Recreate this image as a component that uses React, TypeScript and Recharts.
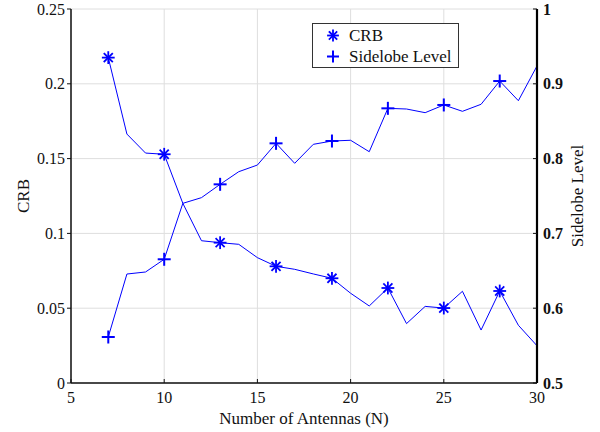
import React from 'react';
import {
  ComposedChart,
  Line,
  XAxis,
  YAxis,
  CartesianGrid,
} from 'recharts';

// Number of antennas N on the x axis
const antennas = [7, 8, 9, 10, 11, 12, 13, 14, 15, 16, 17, 18, 19, 20, 21, 22, 23, 24, 25, 26, 27, 28, 29, 30];

// Cramér–Rao bound per antenna count (left axis)
const crb = [
  0.2175, 0.1664, 0.1537, 0.1529, 0.1201, 0.0951, 0.0938, 0.0927, 0.0838, 0.078, 0.076, 0.0729,
  0.07, 0.06, 0.0515, 0.0635, 0.0397, 0.0512, 0.0501, 0.0613, 0.0354, 0.0615, 0.0386, 0.0249,
];

// Sidelobe level per antenna count (right axis)
const sidelobe = [
  0.5615, 0.6457, 0.6484, 0.6654, 0.7402, 0.7478, 0.7656, 0.7825, 0.7914, 0.8204, 0.7937, 0.8191,
  0.8235, 0.8245, 0.8092, 0.8672, 0.8663, 0.8614, 0.8717, 0.8632, 0.8726, 0.9037, 0.8774, 0.9238,
];

// Antenna counts where a marker is drawn on each curve
const markerAntennas = [7, 10, 13, 16, 19, 22, 25, 28];

const xTicks = [5, 10, 15, 20, 25, 30];
const crbTicks = [0, 0.05, 0.1, 0.15, 0.2, 0.25];
const sidelobeTicks = [0.5, 0.6, 0.7, 0.8, 0.9, 1];

const seriesNames = { crb: 'CRB', sidelobe: 'Sidelobe Level' };

const data = antennas.map((n, i) => ({ n, crb: crb[i], sidelobe: sidelobe[i] }));

const BLUE = '#0000ff';
const FONT = 'Liberation Serif, DejaVu Serif, serif';
const markerSet = new Set(markerAntennas);

const Asterisk = ({ cx, cy, r = 5.5 }: { cx: number; cy: number; r?: number }) => {
  const d = r * Math.SQRT1_2;
  return (
    <g stroke={BLUE} strokeWidth={1.8} strokeLinecap="square">
      <line x1={cx - r} y1={cy} x2={cx + r} y2={cy} />
      <line x1={cx} y1={cy - r} x2={cx} y2={cy + r} />
      <line x1={cx - d} y1={cy - d} x2={cx + d} y2={cy + d} />
      <line x1={cx - d} y1={cy + d} x2={cx + d} y2={cy - d} />
    </g>
  );
};

const Plus = ({ cx, cy, r = 6.5 }: { cx: number; cy: number; r?: number }) => (
  <g stroke={BLUE} strokeWidth={2}>
    <line x1={cx - r} y1={cy} x2={cx + r} y2={cy} />
    <line x1={cx} y1={cy - r} x2={cx} y2={cy + r} />
  </g>
);

const asteriskDot = (props: any) => {
  const { cx, cy, payload, index } = props;
  if (!markerSet.has(payload.n)) return <g key={`a-${index}`} />;
  return (
    <g key={`a-${index}`}>
      <Asterisk cx={cx} cy={cy} />
    </g>
  );
};

const plusDot = (props: any) => {
  const { cx, cy, payload, index } = props;
  if (!markerSet.has(payload.n)) return <g key={`p-${index}`} />;
  return (
    <g key={`p-${index}`}>
      <Plus cx={cx} cy={cy} />
    </g>
  );
};

// Legend box overlaid on the upper part of the plot
const LegendBox = () => (
  <div
    style={{
      position: 'absolute',
      left: 312,
      top: 23,
      width: 145,
      height: 43,
      border: '1px solid #333',
      background: '#fff',
      fontFamily: FONT,
      fontSize: 17,
      color: '#111',
    }}
  >
    {[seriesNames.crb, seriesNames.sidelobe].map((name, i) => (
      <div
        key={name}
        style={{ position: 'absolute', left: 0, top: i === 0 ? 1 : 22, height: 21, display: 'flex', alignItems: 'center' }}
      >
        <svg width={36} height={21} style={{ display: 'block' }}>
          {i === 0 ? <Asterisk cx={20} cy={10.5} r={5} /> : <Plus cx={20} cy={10.5} r={6} />}
        </svg>
        <span style={{ whiteSpace: 'nowrap', lineHeight: '21px' }}>{name}</span>
      </div>
    ))}
  </div>
);

const axisText = { fontFamily: FONT, fontSize: 16, fill: '#111' };

export default function App() {
  return (
    <div style={{ position: 'fixed', left: 0, top: 0, width: 600, height: 432, background: '#fff', fontFamily: FONT }}>
      <ComposedChart
        width={600}
        height={432}
        data={data}
        margin={{ top: 9, right: 0, bottom: 0, left: 0 }}
      >
        <CartesianGrid yAxisId="left" stroke="#dedede" strokeWidth={1} />
        <XAxis
          dataKey="n"
          type="number"
          domain={[5, 30]}
          ticks={xTicks}
          height={49}
          tickSize={-4}
          tickMargin={13}
          axisLine={{ stroke: '#111', strokeWidth: 1.5 }}
          tickLine={{ stroke: '#111' }}
          tick={axisText}
          label={{
            content: (p: any) => {
              const vb = p.viewBox;
              return (
                <text
                  x={vb.x + vb.width / 2}
                  y={vb.y + 41}
                  textAnchor="middle"
                  fontFamily={FONT}
                  fontSize={17}
                  fill="#111"
                >
                  Number of Antennas (N)
                </text>
              );
            },
          }}
        />
        <XAxis
          xAxisId="top"
          orientation="top"
          type="number"
          domain={[5, 30]}
          ticks={xTicks}
          height={0}
          tickSize={-4}
          tick={false}
          axisLine={{ stroke: '#777', strokeWidth: 1.5 }}
          tickLine={{ stroke: '#333' }}
        />
        <YAxis
          yAxisId="left"
          orientation="left"
          domain={[0, 0.25]}
          ticks={crbTicks}
          width={71}
          tickSize={4}
          tickMargin={2}
          axisLine={{ stroke: '#111', strokeWidth: 1.5 }}
          tickLine={{ stroke: '#111' }}
          tick={axisText}
          label={{
            content: (p: any) => {
              const vb = p.viewBox;
              const cx = 23;
              const cy = vb.y + vb.height / 2;
              return (
                <text
                  x={cx}
                  y={cy}
                  textAnchor="middle"
                  dominantBaseline="central"
                  transform={`rotate(-90, ${cx}, ${cy})`}
                  fontFamily={FONT}
                  fontSize={17}
                  fill="#111"
                >
                  CRB
                </text>
              );
            },
          }}
        />
        <YAxis
          yAxisId="right"
          orientation="right"
          domain={[0.5, 1]}
          ticks={sidelobeTicks}
          width={63}
          tickSize={-4}
          tickMargin={10}
          axisLine={{ stroke: '#000', strokeWidth: 2.2 }}
          tickLine={{ stroke: '#111' }}
          tick={{ ...axisText, fontWeight: 'bold' }}
          label={{
            content: (p: any) => {
              const vb = p.viewBox;
              const cx = 577;
              const cy = vb.y + vb.height / 2;
              return (
                <text
                  x={cx}
                  y={cy}
                  textAnchor="middle"
                  dominantBaseline="central"
                  transform={`rotate(-90, ${cx}, ${cy})`}
                  fontFamily={FONT}
                  fontSize={17}
                  fill="#111"
                >
                  Sidelobe Level
                </text>
              );
            },
          }}
        />
        <Line
          yAxisId="left"
          dataKey="crb"
          name={seriesNames.crb}
          type="linear"
          stroke={BLUE}
          strokeWidth={1}
          dot={asteriskDot}
          activeDot={false}
          isAnimationActive={false}
        />
        <Line
          yAxisId="right"
          dataKey="sidelobe"
          name={seriesNames.sidelobe}
          type="linear"
          stroke={BLUE}
          strokeWidth={1}
          dot={plusDot}
          activeDot={false}
          isAnimationActive={false}
        />
      </ComposedChart>
      <LegendBox />
    </div>
  );
}
